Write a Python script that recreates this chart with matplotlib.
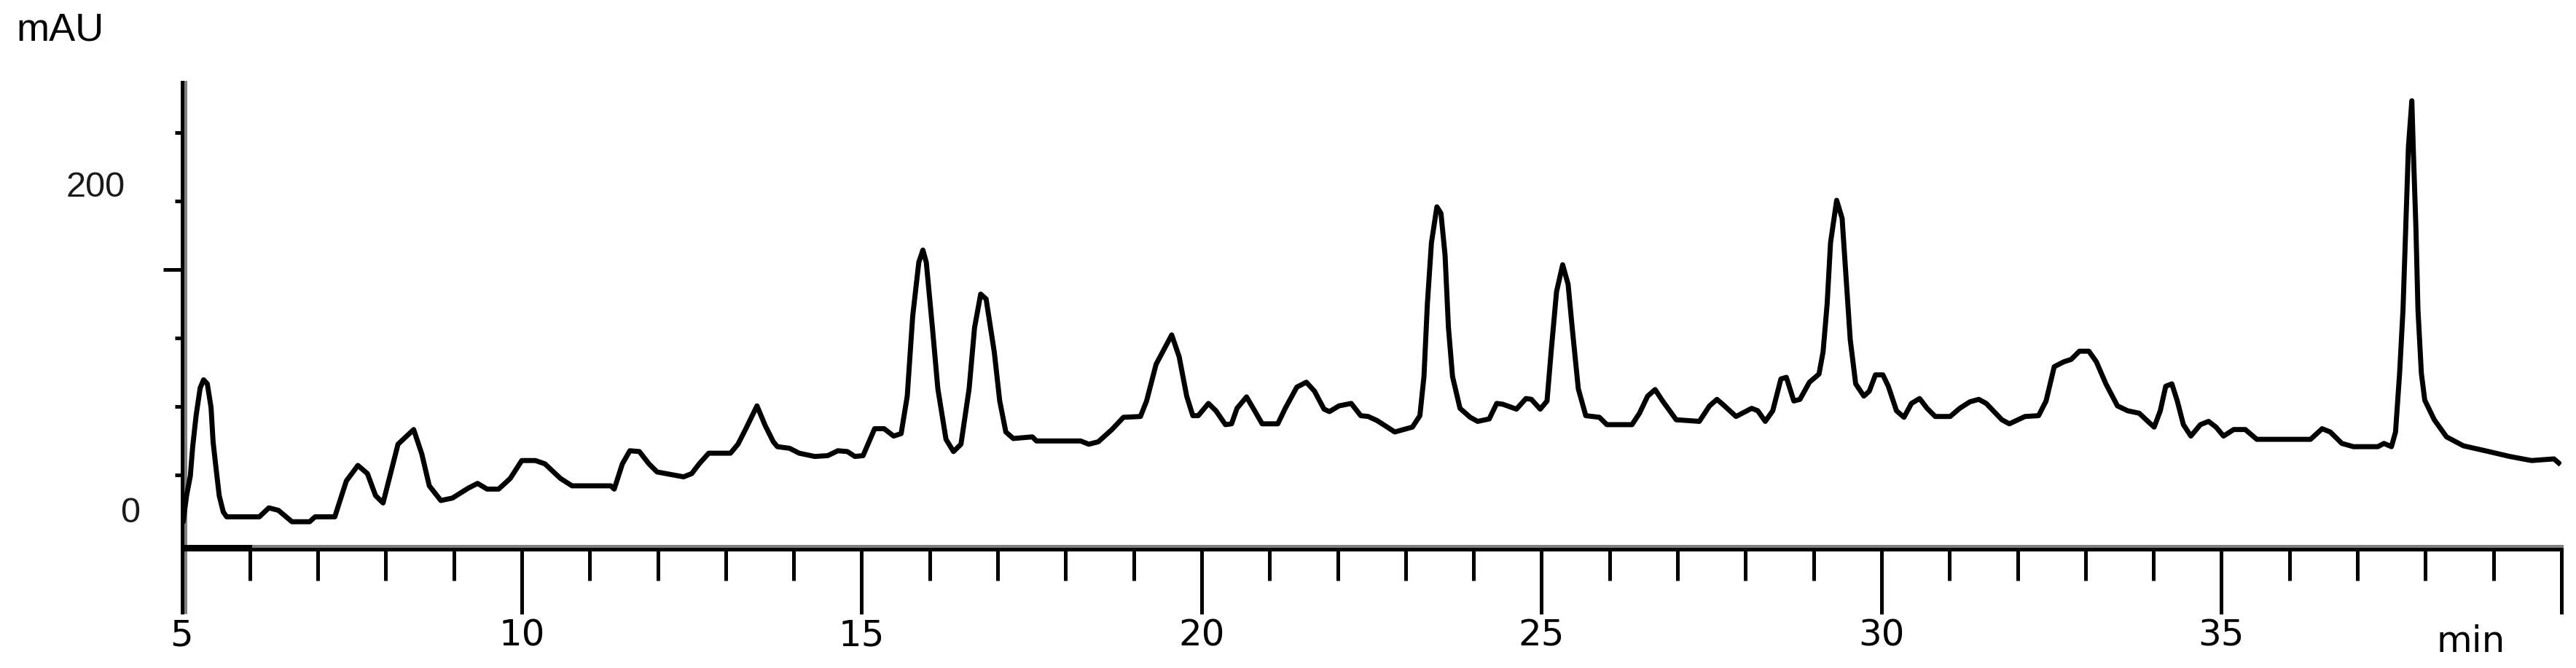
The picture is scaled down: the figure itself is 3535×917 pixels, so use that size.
import matplotlib
matplotlib.use("Agg")
import matplotlib.pyplot as plt

# chromatogram trace (retention time in min, signal in mAU)
time_min = [
    5.00, 5.02, 5.07, 5.125, 5.16, 5.21, 5.27, 5.32, 5.375, 5.43, 5.46, 5.50, 5.55, 5.61, 5.66,
    6.14, 6.28, 6.42, 6.62, 6.88, 6.96, 7.25, 7.42, 7.59, 7.73, 7.85, 7.96, 8.07, 8.18, 8.41,
    8.53, 8.64, 8.81, 8.98, 9.21, 9.35, 9.49, 9.66, 9.83, 10.00, 10.20, 10.34, 10.57, 10.74,
    11.31, 11.36, 11.48, 11.59, 11.73, 11.87, 11.99, 12.38, 12.50, 12.61, 12.75, 13.07, 13.18,
    13.29, 13.46, 13.58, 13.70, 13.76, 13.94, 14.08, 14.31, 14.50, 14.65, 14.79, 14.90, 15.02,
    15.19, 15.33, 15.47, 15.58, 15.67, 15.75, 15.84, 15.90, 15.95, 16.04, 16.12, 16.24, 16.35,
    16.46, 16.58, 16.66, 16.75, 16.83, 16.95, 17.03, 17.12, 17.23, 17.51, 17.57, 18.22, 18.34,
    18.48, 18.68, 18.85, 19.10, 19.19, 19.33, 19.56, 19.67, 19.78, 19.87, 19.95, 20.10, 20.21,
    20.35, 20.44, 20.52, 20.66, 20.78, 20.89, 21.12, 21.23, 21.40, 21.54, 21.66, 21.80, 21.88,
    22.02, 22.20, 22.34, 22.45, 22.58, 22.73, 22.84, 23.10, 23.21, 23.27, 23.32, 23.38, 23.46,
    23.52, 23.58, 23.63, 23.69, 23.80, 23.95, 24.06, 24.23, 24.34, 24.43, 24.63, 24.77, 24.85,
    24.98, 25.08, 25.14, 25.22, 25.31, 25.39, 25.45, 25.54, 25.65, 25.85, 25.96, 26.33, 26.44,
    26.56, 26.67, 26.78, 26.98, 27.32, 27.47, 27.58, 27.69, 27.86, 28.09, 28.18, 28.29, 28.40,
    28.52, 28.60, 28.71, 28.80, 28.94, 29.08, 29.14, 29.20, 29.25, 29.34, 29.42, 29.48, 29.54,
    29.62, 29.74, 29.82, 29.91, 30.02, 30.10, 30.22, 30.33, 30.44, 30.56, 30.67, 30.79, 31.01,
    31.15, 31.30, 31.43, 31.54, 31.77, 31.88, 32.11, 32.31, 32.42, 32.54, 32.68, 32.79, 32.91,
    33.05, 33.16, 33.30, 33.47, 33.62, 33.79, 33.93, 34.01, 34.10, 34.18, 34.27, 34.35, 34.44,
    34.55, 34.69, 34.81, 34.92, 35.03, 35.18, 35.35, 35.52, 36.31, 36.48, 36.60, 36.77, 36.94,
    37.30, 37.39, 37.50, 37.56, 37.62, 37.67, 37.71, 37.75, 37.80, 37.82, 37.86, 37.89, 37.94,
    37.99, 38.13, 38.31, 38.56, 38.88, 39.24, 39.56, 39.89, 39.96,
]
signal_mau = [
    -6, -5, 11, 23, 41, 60, 77, 82, 79.5, 65, 44, 29, 11, 1, -2,
    -2, 3.5, 2, -5, -5, -2, -2, 20, 29.5, 24.5, 11, 6.5, 24.5, 42.5, 51.5,
    36.5, 17, 8, 9.5, 15.5, 18.5, 15, 15, 21.5, 32.5, 32.5, 30.5, 21.5, 17,
    17, 15, 30.5, 38.5, 38, 30.5, 25.5, 22.5, 24.5, 30.5, 37, 37, 42.5,
    51.5, 66, 54, 44, 41, 40, 37, 35, 35.5, 38.5, 38, 35, 35.5,
    52, 52, 47.5, 49, 72, 121, 154, 161.5, 154, 114, 76.5, 45.5, 38,
    42.5, 76.5, 114, 134.5, 131.5, 99, 69, 50, 46, 47, 44.5, 44.5, 42.5,
    44, 51.5, 59, 59.5, 69, 91.5, 109.5, 96, 72, 60, 60, 67.5, 63,
    54.5, 55, 64.5, 71.5, 63, 55, 55, 64.5, 77.5, 80.5, 75, 64, 62.5,
    66, 67.5, 60, 59.5, 57, 53, 50, 53, 60, 84, 128.5, 166, 188,
    184, 158.5, 114, 84, 64.5, 59, 56.5, 58, 67.5, 67, 64, 70.5, 70,
    64, 69, 99, 136, 152.5, 140.5, 114, 76.5, 60, 59, 54.5, 54.5, 61.5,
    72, 76, 69, 57.5, 56.5, 66, 70, 66, 59.5, 64.5, 63, 56.5, 63,
    82.5, 83.5, 69, 70, 80.5, 85.5, 99, 128.5, 166, 192, 181, 143.5, 106.5,
    79.5, 72, 75, 85, 85, 78, 63, 59, 67.5, 70.5, 64.5, 59.5, 59.5,
    64.5, 68.5, 70, 67.5, 57.5, 55, 59.5, 60, 69, 90, 93, 94.5, 99.5,
    99.5, 93, 79.5, 66, 63, 61.5, 56, 53, 63, 78, 79.5, 69, 54.5,
    47.5, 54.5, 56.5, 53, 47.5, 51.5, 51.5, 45.5, 45.5, 52, 50, 43, 41,
    41, 43, 41, 50, 86, 125, 175, 225, 253, 225, 175, 125, 86,
    69.5, 57.5, 47, 41.5, 38.5, 35, 32.5, 33.5, 31,
]

x_major = [5, 10, 15, 20, 25, 30, 35, 40]
x_major_labels = ['5', '10', '15', '20', '25', '30', '35', '']
x_minor = list(range(5, 41))
y_label_values = [0, 200]
y_label_texts = ['0', '200']

narrow = ['Liberation Sans Narrow', 'DejaVu Sans']
plain = ['Liberation Sans', 'DejaVu Sans']

fig = plt.figure(figsize=(35.35, 9.17), dpi=100)
# axes box runs from the top of the y axis down to the time axis
ax = fig.add_axes([0.07058, 0.17721, 0.92376, 0.69956])

ax.plot(time_min, signal_mau, color='black', lw=5, zorder=5)

ax.set_xlim(5, 40)
ax.set_ylim(-22.1, 264.3)

ax.spines['top'].set_visible(False)
ax.spines['right'].set_visible(False)
ax.spines['left'].set_linewidth(3.6)
ax.spines['bottom'].set_linewidth(3.6)

# y axis carries on below the time axis
ax.plot([5, 5], [-60.3, -22.1], color='black', lw=3.6, clip_on=False, zorder=3)
# grey shadow lines next to the axes, like the instrument export
ax.plot([5.048, 5.048], [-60.3, 264.3], color='#808080', lw=3.6, clip_on=False, zorder=1)
ax.plot([6, 40], [-19.9, -19.9], color='#808080', lw=3.6, clip_on=False, zorder=1)
ax.plot([5, 6], [-19.9, -19.9], color='black', lw=3.6, clip_on=False, zorder=1)

ax.set_xticks(x_major)
ax.set_xticks(x_minor, minor=True)
ax.set_xticklabels(x_major_labels, fontfamily=narrow, fontsize=36)
ax.tick_params(axis='x', which='major', direction='out', length=64, width=3.6, pad=4)
ax.tick_params(axis='x', which='minor', direction='out', length=31, width=3.6)

ax.set_yticks([149.5])
ax.set_yticks([23.5, 65.5, 107.5, 191.5, 233.5], minor=True)
ax.tick_params(axis='y', which='major', direction='out', length=19, width=3.6, labelleft=False)
ax.tick_params(axis='y', which='minor', direction='out', length=7, width=3.6)

# y labels sit off the tick marks in the original
ax.text(-0.0176, y_label_values[0], y_label_texts[0], transform=ax.get_yaxis_transform(),
        ha='right', va='center', fontsize=35, fontfamily=plain, color='#1a1a1a')
ax.text(-0.0237, y_label_values[1], y_label_texts[1], transform=ax.get_yaxis_transform(),
        ha='right', va='center', fontsize=35, fontfamily=plain, color='#1a1a1a')

ax.text(38.67, -78.6, 'min', ha='center', va='center', fontsize=36, fontfamily=narrow)
fig.text(22 / 3535, 1 - 42 / 917, 'mAU', ha='left', va='center', fontsize=39, fontfamily=plain)

fig.savefig('out.png', dpi=100)
